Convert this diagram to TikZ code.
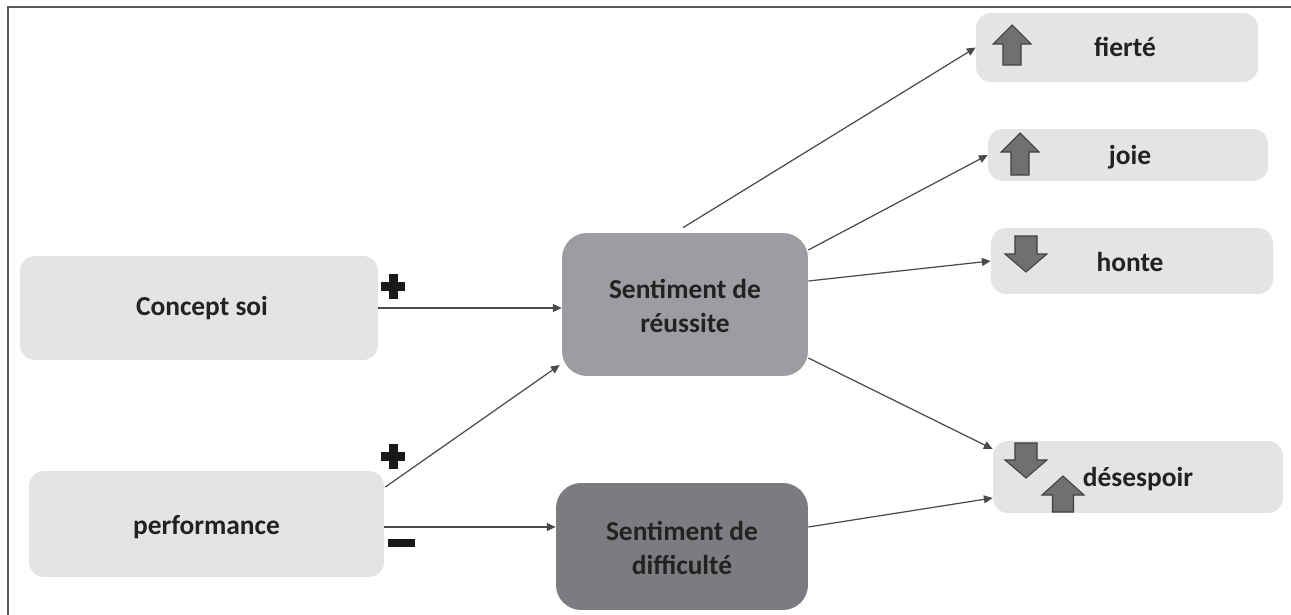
\documentclass[tikz,border=0pt]{standalone}
\usepackage{fontspec}
\setmainfont{Carlito}
\usetikzlibrary{arrows.meta,calc}
\definecolor{lightbox}{HTML}{E4E4E6}
\definecolor{midbox}{HTML}{9C9DA1}
\definecolor{darkbox}{HTML}{7B7C80}
\definecolor{txt}{HTML}{222222}
\definecolor{conn}{HTML}{4A4A4A}
\definecolor{blkfill}{HTML}{707070}
\newcommand\blkup[5]{% cx, top, bottom, headwidth/2, shaftwidth/2 ; head height 19
  \draw[blk] ({#1-#5},#3) -- ({#1-#5},{#2+19}) -- ({#1-#4},{#2+19}) -- (#1,#2) -- ({#1+#4},{#2+19}) -- ({#1+#5},{#2+19}) -- ({#1+#5},#3) -- cycle;}
\newcommand\blkdown[5]{% cx, top, bottom, headwidth/2, shaftwidth/2
  \draw[blk] ({#1-#5},#2) -- ({#1-#5},{#3-18}) -- ({#1-#4},{#3-18}) -- (#1,#3) -- ({#1+#4},{#3-18}) -- ({#1+#5},{#3-18}) -- ({#1+#5},#2) -- cycle;}
\begin{document}
\begin{tikzpicture}[x=0.02cm,y=-0.02cm,
  box/.style={rectangle,rounded corners=0.3cm,inner sep=0pt},
  lbox/.style={box,fill=lightbox},
  lab/.style={font=\fontsize{15.6}{19.5}\selectfont\bfseries,text=txt,align=center,inner sep=0pt},
  conn/.style={draw=conn,line width=0.7pt,-{Triangle[length=5pt,width=4.5pt]}},
  blk/.style={fill=blkfill,draw=black!75,line width=0.6pt,line join=miter},
  sign/.style={fill=black!90,draw=none},
  frame/.style={draw=black!65,line width=1.2pt}]
\useasboundingbox (0,0) rectangle (1291,615);
\draw[frame] (8,615) -- (8,7) -- (1291,7);
% boxes
\node[lbox,minimum width=7.16cm,minimum height=2.08cm] (concept) at (199,308) {};
\node[lab] (conceptt) at (202,308) {Concept soi};
\node[lbox,minimum width=7.10cm,minimum height=2.12cm] (perf) at (206.5,524) {};
\node[lab] (perft) at (206.5,527) {performance};
\node[box,fill=midbox,rounded corners=0.5cm,minimum width=4.92cm,minimum height=2.86cm] (reus) at (685,304.5) {};
\node[lab] (reust) at (685,306) {Sentiment de\\réussite};
\node[box,fill=darkbox,rounded corners=0.5cm,minimum width=5.04cm,minimum height=2.54cm] (diff) at (682,546.5) {};
\node[lab] (difft) at (682,548) {Sentiment de\\difficulté};
\node[lbox,minimum width=5.64cm,minimum height=1.38cm] (fierte) at (1117,47.5) {};
\node[lab] (fiertet) at (1125,47) {fierté};
\node[lbox,minimum width=5.60cm,minimum height=1.04cm] (joie) at (1128,155) {};
\node[lab] (joiet) at (1130,157) {joie};
\node[lbox,minimum width=5.64cm,minimum height=1.32cm] (honte) at (1132,261) {};
\node[lab] (hontet) at (1130,262) {honte};
\node[lbox,minimum width=5.80cm,minimum height=1.44cm] (desesp) at (1138,477) {};
\node[lab] (despt) at (1138,479) {désespoir};
% block arrows
\blkup{1012}{25}{65}{19}{9}
\blkup{1020}{133}{175}{19}{9}
\blkdown{1026}{236}{272}{21}{11}
\blkdown{1026}{443}{478}{21}{11}
\blkup{1063}{476}{512}{21}{10.5}
% connectors
\draw[conn] (concept.east) -- (concept.east -| reus.west);
\draw[conn] ($(perf.east)+(1,-37)$) -- ($(reus.west)+(-2,60.5)$);
\draw[conn] ($(perf.east)+(0,3)$) -- ($(diff.west)+(0,-19.5)$);
\draw[conn] ($(reus.north)+(-2,-5)$) -- (fierte.west);
\draw[conn] ($(reus.east)+(0,-54.5)$) -- (joie.west);
\draw[conn] ($(reus.east)+(0,-23.5)$) -- (honte.west);
\draw[conn] ($(reus.east)+(0,53.5)$) -- ($(desesp.west)+(0,-28)$);
\draw[conn] ($(diff.east)+(0,-19.5)$) -- ($(desesp.west)+(0,21)$);
% signs
\fill[sign] (381,282) rectangle (405,291);
\fill[sign] (388.5,274) rectangle (397.5,299);
\fill[sign] (381,452) rectangle (405,461);
\fill[sign] (388.5,444) rectangle (397.5,469);
\fill[sign] (388,539) rectangle (415,547);
\end{tikzpicture}
\end{document}
